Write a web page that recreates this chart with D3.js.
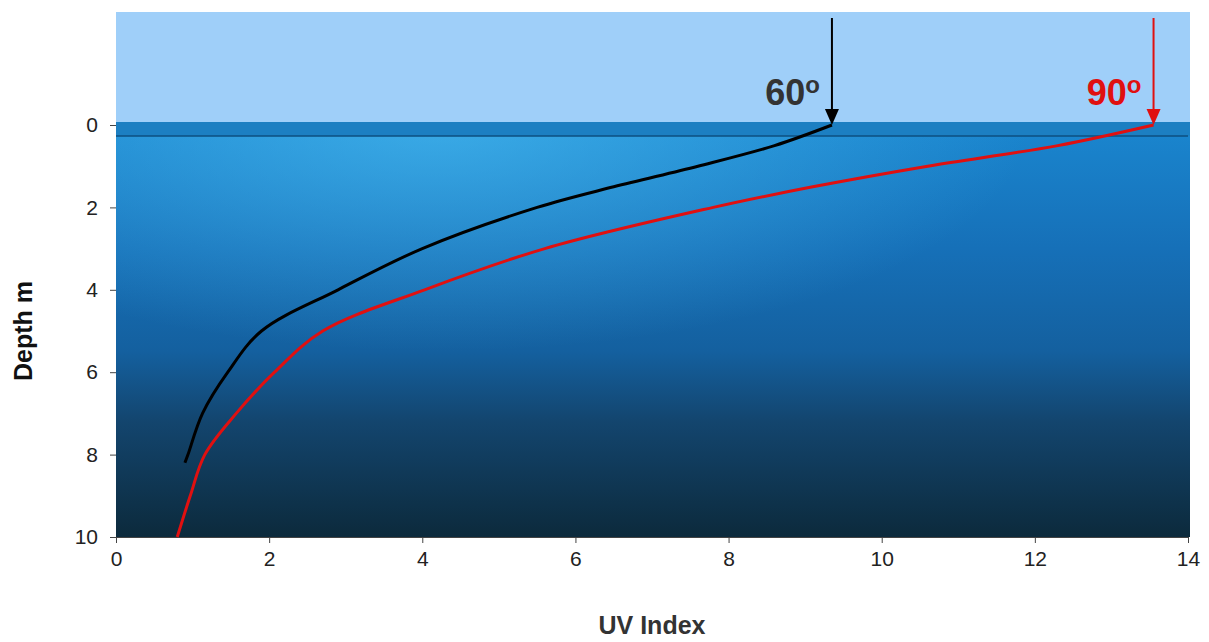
<!DOCTYPE html>
<html><head><meta charset="utf-8">
<script src="https://cdn.jsdelivr.net/npm/d3@7"></script>
<style>body{margin:0;background:#fff}text{font-family:"Liberation Sans",Arial,sans-serif}</style>
</head><body><svg id="chart"></svg>
<script>
// depth (m) vs UV index for sun elevation 60 and 90 degrees
const depths60 = [0, 0.5, 1, 1.5, 2, 3, 4, 5, 6, 7, 8, 8.2];
const uv60 = [9.35, 8.6, 7.6, 6.5, 5.5, 4.0, 2.9, 1.9, 1.46, 1.13, 0.94, 0.9];
const depths90 = [0, 0.5, 1, 1.5, 2, 3, 4, 5, 6, 7, 8, 9, 10];
const uv90 = [13.55, 12.3, 10.6, 9.1, 7.8, 5.6, 4.03, 2.7, 2.07, 1.57, 1.16, 0.97, 0.8];
const xTicks = [0, 2, 4, 6, 8, 10, 12, 14];
const yTicks = [0, 2, 4, 6, 8, 10];

const W = 1209, H = 642;
const m = { left: 116, right: 21, top: 125, bottom: 105 };
const svg = d3.select("#chart").attr("width", W).attr("height", H);
const x = d3.scaleLinear().domain([0, 14]).range([m.left, W - m.right]);
const y = d3.scaleLinear().domain([0, 10]).range([m.top, H - m.bottom]);
const skyTop = 12;

const defs = svg.append("defs");
const sea = defs.append("linearGradient").attr("id", "sea").attr("x1", 0).attr("y1", 0).attr("x2", 0).attr("y2", 1);
[["0%", "#1a86cf"], ["30%", "#1670b8"], ["55%", "#14609f"], ["72%", "#13456e"], ["100%", "#0c2a3c"]]
  .forEach(([o, c]) => sea.append("stop").attr("offset", o).attr("stop-color", c));
const glow = defs.append("radialGradient").attr("id", "glow").attr("cx", 0.3).attr("cy", 0).attr("r", 0.55);
glow.append("stop").attr("offset", "0%").attr("stop-color", "#4fc3f7").attr("stop-opacity", 0.6);
glow.append("stop").attr("offset", "100%").attr("stop-color", "#4fc3f7").attr("stop-opacity", 0);

const pw = x(14) - x(0) + 2;
svg.append("rect").attr("x", x(0)).attr("y", skyTop).attr("width", pw)
  .attr("height", y(0) - skyTop).attr("fill", "#9fcff9");
svg.append("rect").attr("x", x(0)).attr("y", y(0)).attr("width", pw)
  .attr("height", y(10) - y(0)).attr("fill", "url(#sea)");
svg.append("rect").attr("x", x(0)).attr("y", y(0)).attr("width", pw)
  .attr("height", y(10) - y(0)).attr("fill", "url(#glow)");
svg.append("rect").attr("x", x(0)).attr("y", y(0) - 3).attr("width", pw)
  .attr("height", 14).attr("fill", "#1c7fc2");
svg.append("line").attr("x1", x(0)).attr("x2", x(14)).attr("y1", y(0) + 11).attr("y2", y(0) + 11)
  .attr("stroke", "#0d4f80").attr("stroke-width", 1.5);

// axes
svg.append("g").attr("transform", `translate(0,${y(10)})`)
  .call(d3.axisBottom(x).tickValues(xTicks).tickSize(6).tickPadding(8))
  .call(g => g.selectAll("text").style("font-size", "21px").attr("fill", "#222"))
  .call(g => g.selectAll("line,path").attr("stroke", "#444"));
svg.append("g").attr("transform", `translate(${x(0)},0)`)
  .call(d3.axisLeft(y).tickValues(yTicks).tickSize(6).tickPadding(12))
  .call(g => g.select(".domain").remove())
  .call(g => g.selectAll("text").style("font-size", "21px").attr("fill", "#222"))
  .call(g => g.selectAll("line").attr("stroke", "#444"));

const line = d3.line().curve(d3.curveCatmullRom);
svg.append("path").attr("d", line(depths90.map((d, i) => [x(uv90[i]), y(d)])))
  .attr("fill", "none").attr("stroke", "#e01010").attr("stroke-width", 3);
svg.append("path").attr("d", line(depths60.map((d, i) => [x(uv60[i]), y(d)])))
  .attr("fill", "none").attr("stroke", "#000").attr("stroke-width", 3);

// arrows
function arrow(v, color) {
  const xv = x(v);
  svg.append("line").attr("x1", xv).attr("x2", xv).attr("y1", 18).attr("y2", y(0) - 10)
    .attr("stroke", color).attr("stroke-width", 2);
  svg.append("path").attr("d", `M${xv - 7},${y(0) - 16} L${xv + 7},${y(0) - 16} L${xv},${y(0)} Z`).attr("fill", color);
}
arrow(uv60[0], "#000");
arrow(uv90[0], "#e01010");

function angleLabel(tx, label, color) {
  const t = svg.append("text").attr("x", tx).attr("y", 105).attr("font-size", 36)
    .attr("font-weight", "bold").attr("fill", color).attr("text-anchor", "end");
  t.append("tspan").text(label);
  t.append("tspan").attr("font-size", 24).attr("dy", -12).text("o");
}
angleLabel(x(uv60[0]) - 12, "60", "#333");
angleLabel(x(uv90[0]) - 12, "90", "#e01010");

svg.append("text").attr("x", x(7)).attr("y", 634).attr("text-anchor", "middle")
  .attr("font-size", 25).attr("font-weight", "bold").attr("fill", "#333").text("UV Index");
svg.append("text").attr("transform", `translate(32,${y(5)}) rotate(-90)`).attr("text-anchor", "middle")
  .attr("font-size", 25).attr("font-weight", "bold").attr("fill", "#111").text("Depth m");
</script></body></html>
